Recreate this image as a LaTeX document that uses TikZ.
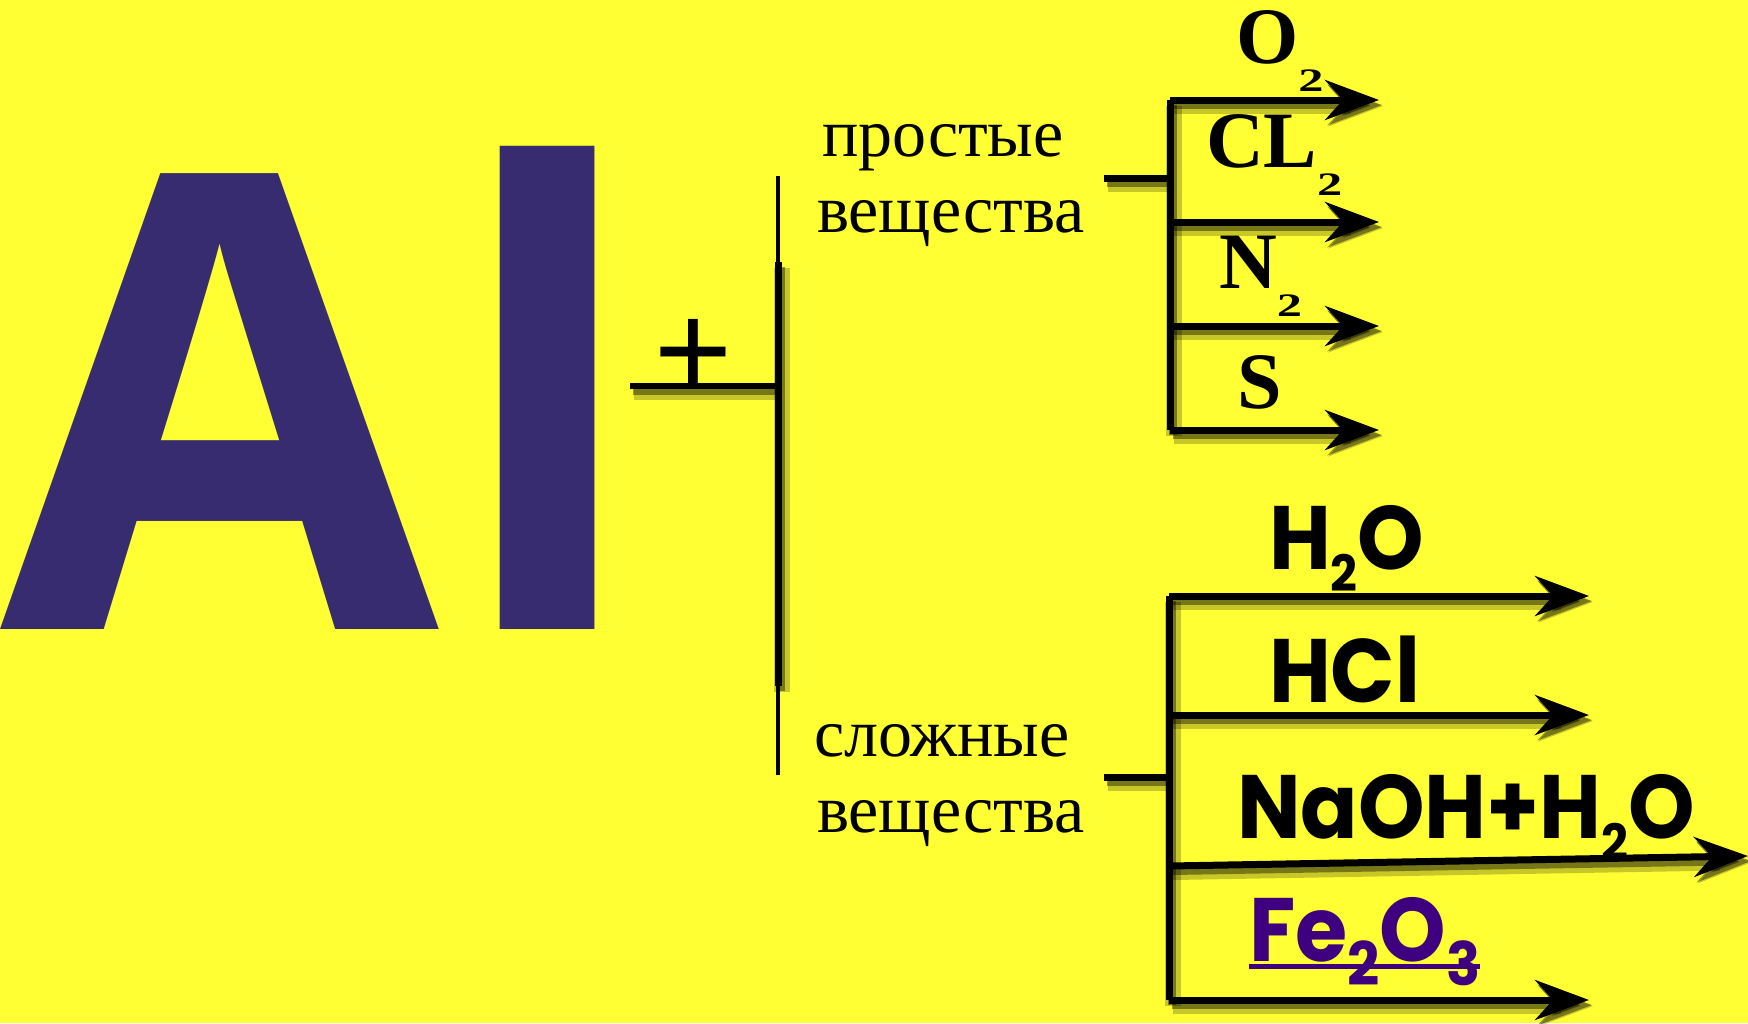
\documentclass[tikz,border=0pt]{standalone}
\usepackage{fontspec}
\usepackage{graphicx}
\setmainfont{Liberation Serif}
\newfontfamily\alfont{Open Sans}
\newfontfamily\geo{Poppins}[FakeStretch=0.94]
\usetikzlibrary{arrows.meta,calc}
\definecolor{bg}{HTML}{FFFF33}
\definecolor{alc}{HTML}{372C70}
\definecolor{fec}{HTML}{3F0080}
\newcommand\subA[1]{\raisebox{-14pt}{\fontsize{21}{21}\selectfont\scalebox{1.2}[0.78]{#1}}}
\newcommand\subB[1]{\raisebox{-11pt}{\fontsize{25}{25}\selectfont #1}}
\newcommand\subC[1]{\raisebox{-12pt}{\fontsize{30}{30}\selectfont #1}}
\begin{document}
\begin{tikzpicture}[x=0.5pt,y=-0.5pt,
  txt/.style={anchor=base west, inner sep=0pt, outer sep=0pt},
  lbl/.style={txt, font=\fontsize{34}{34}\selectfont},
  sf/.style={txt, font=\bfseries\fontsize{40}{40}\selectfont},
  cf/.style={txt, font=\geo\bfseries\fontsize{45}{45}\selectfont},
  ln/.style={line width=3.5pt, draw=black,
    preaction={draw=black, opacity=0.22, line width=8pt, transform canvas={shift={(2pt,-3pt)}}},
    preaction={draw=black, opacity=0.4, line width=4pt, transform canvas={shift={(1.5pt,-2.5pt)}}}},
  thin/.style={line width=2pt, draw=black},
  arr/.style={ln, -{Stealth[length=27pt,width=20pt,inset=9pt]}}
]
\fill[bg] (0,0) rectangle (1748,1023);
\useasboundingbox (0,0) rectangle (1748,1023);

% Al
\node[txt, text=alc, font=\alfont\bfseries\fontsize{318}{318}\selectfont] (al) at (0,629) {A\kern6pt l};

% plus and main stem
\node[anchor=base, inner sep=0pt, font=\bfseries\fontsize{70}{70}\selectfont] (plus) at (693,398) {+};
\coordinate (b0) at (630,386);
\coordinate (b1) at (778,386);
\coordinate (v0) at (778,176);
\coordinate (v1) at (778,262);
\coordinate (v2) at (778,686);
\coordinate (v3) at (778,775);
\draw[ln, line width=3pt] (b0) -- (b1);
\draw[thin] (v0) -- (v1);
\draw[ln] (v1) -- (v2);
\draw[thin] (v2) -- (v3);

% labels
\node[lbl] (p1) at (822,156) {простые};
\node[lbl] (p2) at (817,232) {вещества};
\node[lbl] (s1) at (814,756) {сложные};
\node[lbl] (s2) at (817,832) {вещества};

% upper bracket
\coordinate (uc0) at (1104,178);
\coordinate (uc1) at (1170,178);
\coordinate (ut) at (1170,100);
\coordinate (ub) at (1170,430);
\coordinate (ua1) at (1379,100);
\coordinate (ua2) at (1379,222);
\coordinate (ua3) at (1379,326);
\coordinate (ua4) at (1379,430);
\draw[ln] (uc0) -- (uc1);
\draw[ln] (ut) -- (ub);
\draw[arr] (ut) -- (ua1);
\draw[arr] (ut |- ua2) -- (ua2);
\draw[arr] (ut |- ua3) -- (ua3);
\draw[arr] (ub) -- (ua4);

\node[sf] (o2) at (1236,63) {O\subA{2}};
\node[sf] (cl2) at (1206,167) {CL\subA{2}};
\node[sf] (n2) at (1219,288) {N\subA{2}};
\node[sf] (s) at (1237,408) {S};

% lower bracket
\coordinate (lc0) at (1104,777);
\coordinate (lc1) at (1169,777);
\coordinate (lt) at (1169,596);
\coordinate (lb) at (1169,1000);
\coordinate (la1) at (1589,596);
\coordinate (la2) at (1589,715);
\coordinate (la3s) at (1169,866);
\coordinate (la3) at (1748,856);
\coordinate (la4) at (1589,1000);
\draw[ln] (lc0) -- (lc1);
\draw[ln] (lt) -- (lb);
\draw[arr] (lt) -- (la1);
\draw[arr] (lt |- la2) -- (la2);
\draw[arr] (la3s) -- (la3);
\draw[arr] (lb) -- (la4);

\node[cf] (h2o) at (1269,569) {H\subB{2}O};
\node[cf] (hcl) at (1269,702) {HCl};
\node[cf] (naoh) at (1237,838) {NaOH+H\subB{2}O};
\node[cf, text=fec] (fe) at (1249,961) {Fe\subC{2}O\subC{3}};
\draw[fec, line width=2.5pt] ($(fe.base west)+(0,5)$) -- ($(fe.base east)+(0,5)$);
\end{tikzpicture}
\end{document}
